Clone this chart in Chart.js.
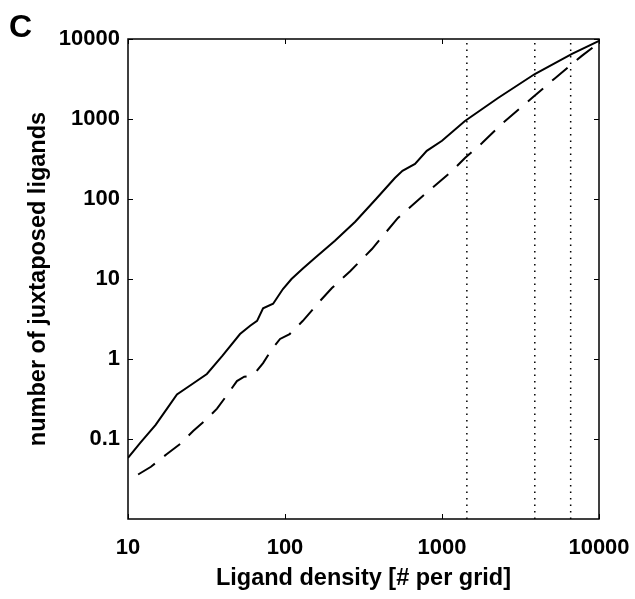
<!DOCTYPE html>
<html>
<head>
<meta charset="utf-8">
<script src="https://cdn.jsdelivr.net/npm/chart.js@4.4.1/dist/chart.umd.min.js"></script>
<style>
  html, body { margin: 0; padding: 0; background: #fff; }
</style>
</head>
<body>
<canvas id="grafico" width="635" height="599"></canvas>
<script>
// valores (escala log-log)
const xTicks = [10, 100, 1000, 10000];
const yTicks = [0.1, 1, 10, 100, 1000, 10000];

const solidX = [10, 12, 15, 18, 20.5, 25, 31.8, 40, 51.7, 60, 66.4, 72.5, 84, 97, 110, 130, 155, 208, 280, 380, 501, 560, 673, 800, 1000, 1400, 2275, 3900, 6730, 10000];
const solidY = [0.058, 0.09, 0.15, 0.25, 0.36, 0.47, 0.65, 1.1, 2.05, 2.6, 3.0, 4.3, 4.9, 7.5, 10, 13.5, 18.3, 30, 52, 100, 183, 225, 275, 400, 535, 944, 1830, 3650, 6500, 9500];

const dashX = [11.6, 14, 17.7, 22, 26, 31, 36.9, 43, 49.4, 55, 59.8, 65, 72.5, 82, 93, 107, 130, 167, 199, 260, 358, 524, 778, 1160, 1400, 1800, 2410, 3740, 5250, 7770, 10000];
const dashY = [0.036, 0.045, 0.065, 0.09, 0.126, 0.17, 0.24, 0.36, 0.53, 0.6, 0.61, 0.68, 0.89, 1.3, 1.78, 2.05, 3.0, 5.3, 7.7, 12.5, 23.7, 58, 115, 224, 325, 500, 870, 1830, 3240, 6150, 9000];

const dottedX = [1440, 3900, 6600];

const yMin = 0.01, yMax = 10000;
const fonte = '"Liberation Sans", Arial, Helvetica, sans-serif';

const pares = (xs, ys) => xs.map((v, i) => ({ x: v, y: ys[i] }));

const linhasVerticais = dottedX.map(v => ({
  data: [{ x: v, y: yMin }, { x: v, y: yMax }],
  borderColor: '#000',
  borderWidth: 1.5,
  borderDash: [1.5, 5],
  pointRadius: 0
}));

// moldura, ticks para dentro e a letra do painel
const moldura = {
  id: 'moldura',
  afterDatasetsDraw(chart) {
    const { ctx, chartArea: a, scales: { x, y } } = chart;
    ctx.save();
    ctx.strokeStyle = '#000';
    ctx.lineWidth = 1;
    ctx.beginPath();
    xTicks.forEach(v => {
      const px = Math.round(x.getPixelForValue(v)) + 0.5;
      ctx.moveTo(px, a.bottom); ctx.lineTo(px, a.bottom - 5);
      ctx.moveTo(px, a.top); ctx.lineTo(px, a.top + 5);
    });
    yTicks.forEach(v => {
      const py = Math.round(y.getPixelForValue(v)) + 0.5;
      ctx.moveTo(a.left, py); ctx.lineTo(a.left + 5, py);
      ctx.moveTo(a.right, py); ctx.lineTo(a.right - 5, py);
    });
    ctx.stroke();
    ctx.lineWidth = 1.5;
    ctx.strokeRect(a.left, a.top, a.right - a.left, a.bottom - a.top);
    ctx.fillStyle = '#000';
    ctx.font = 'bold 32px ' + fonte;
    ctx.textBaseline = 'alphabetic';
    ctx.fillText('C', 9, 37);
    ctx.restore();
  }
};

const ctx = document.getElementById('grafico').getContext('2d');
new Chart(ctx, {
  type: 'line',
  data: {
    datasets: [
      {
        data: pares(solidX, solidY),
        borderColor: '#000',
        borderWidth: 2,
        pointRadius: 0
      },
      {
        data: pares(dashX, dashY),
        borderColor: '#000',
        borderWidth: 2,
        borderDash: [20, 12],
        pointRadius: 0
      },
      ...linhasVerticais
    ]
  },
  options: {
    responsive: false,
    animation: false,
    devicePixelRatio: 1,
    layout: { padding: { left: 20, top: 39, right: 36, bottom: 6 } },
    plugins: {
      legend: { display: false },
      tooltip: { enabled: false }
    },
    scales: {
      x: {
        type: 'logarithmic',
        min: 10,
        max: 10000,
        afterBuildTicks: s => { s.ticks = xTicks.map(v => ({ value: v })); },
        afterFit: s => { s.height = 74; s.paddingRight = 0; s.paddingLeft = 0; },
        grid: { display: false },
        border: { display: false },
        ticks: {
          callback: v => String(v),
          color: '#000',
          font: { family: fonte, size: 22, weight: 'bold' },
          maxRotation: 0,
          autoSkip: false,
          padding: 8
        },
        title: {
          display: true,
          text: 'Ligand density [# per grid]',
          color: '#000',
          font: { family: fonte, size: 23.5, weight: 'bold' },
          padding: 0
        }
      },
      y: {
        type: 'logarithmic',
        min: yMin,
        max: yMax,
        afterBuildTicks: s => { s.ticks = yTicks.map(v => ({ value: v })); },
        afterFit: s => { s.width = 108; s.paddingTop = 0; s.paddingBottom = 0; },
        grid: { display: false },
        border: { display: false },
        ticks: {
          callback: v => String(v),
          color: '#000',
          font: { family: fonte, size: 22, weight: 'bold' },
          autoSkip: false,
          padding: 0
        },
        title: {
          display: true,
          text: 'number of juxtaposed ligands',
          color: '#000',
          font: { family: fonte, size: 23.5, weight: 'bold' },
          padding: { top: 4, bottom: 0 }
        }
      }
    }
  },
  plugins: [moldura]
});
</script>
</body>
</html>
